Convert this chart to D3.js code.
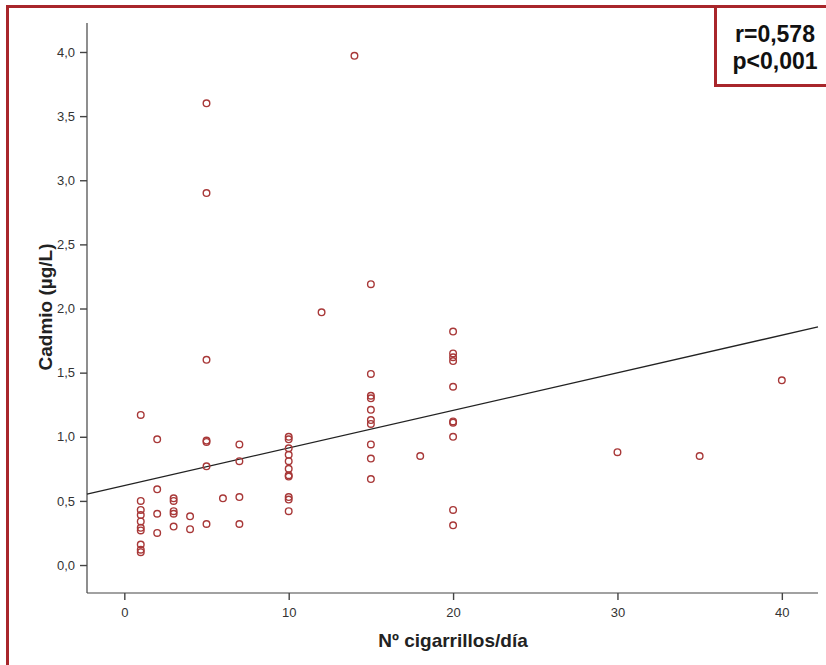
<!DOCTYPE html>
<html>
<head>
<meta charset="utf-8">
<script src="https://cdn.jsdelivr.net/npm/d3@7"></script>
<style>
  body { margin: 0; background: #fff; }
  svg { display: block; font-family: "Liberation Sans", Arial, sans-serif; }
</style>
</head>
<body>
<div id="chart"></div>
<script>
// Cigarettes per day (x) and cadmium level (y).
const cigarettes = [
  1, 1, 1, 1, 1, 1, 1, 1, 1, 1,
  2, 2, 2, 2,
  3, 3, 3, 3, 3,
  4, 4,
  5, 5, 5, 5, 5, 5, 5,
  6,
  7, 7, 7, 7,
  10, 10, 10, 10, 10, 10, 10, 10, 10, 10, 10,
  12, 14,
  15, 15, 15, 15, 15, 15, 15, 15, 15, 15,
  18,
  20, 20, 20, 20, 20, 20, 20, 20, 20, 20,
  30, 35, 40
];
const cadmium = [
  1.17, 0.50, 0.43, 0.39, 0.34, 0.29, 0.27, 0.16, 0.12, 0.10,
  0.98, 0.59, 0.40, 0.25,
  0.52, 0.50, 0.42, 0.40, 0.30,
  0.38, 0.28,
  3.60, 2.90, 1.60, 0.97, 0.96, 0.77, 0.32,
  0.52,
  0.94, 0.81, 0.53, 0.32,
  1.00, 0.98, 0.91, 0.86, 0.81, 0.75, 0.70, 0.69, 0.53, 0.51, 0.42,
  1.97, 3.97,
  2.19, 1.49, 1.32, 1.30, 1.21, 1.13, 1.10, 0.94, 0.83, 0.67,
  0.85,
  1.82, 1.65, 1.62, 1.59, 1.39, 1.12, 1.11, 1.00, 0.43, 0.31,
  0.88, 0.85, 1.44
];
// Fitted line: cadmium = intercept + slope * cigarettes
const fitIntercept = 0.62;
const fitSlope = 0.0293;
const xTicks = [0, 10, 20, 30, 40];
const yTicks = [0, 0.5, 1, 1.5, 2, 2.5, 3, 3.5, 4];
const statLines = ["r=0,578", "p<0,001"];

const W = 826, H = 665;
const plot = { left: 87, right: 818, top: 23, bottom: 593 };

const svg = d3.select("#chart").append("svg")
  .attr("width", W).attr("height", H);

const x = d3.scaleLinear().domain([-2.27, 42.2]).range([plot.left, plot.right]);
const y = d3.scaleLinear().domain([-0.218, 4.226]).range([plot.bottom, plot.top]);

const comma = v => d3.format(".1f")(v).replace(".", ",");

// Axes
const yAxis = svg.append("g")
  .attr("transform", `translate(${plot.left},0)`)
  .call(d3.axisLeft(y).tickValues(yTicks).tickFormat(comma)
    .tickSize(7).tickPadding(5).tickSizeOuter(0));
const xAxis = svg.append("g")
  .attr("transform", `translate(0,${plot.bottom})`)
  .call(d3.axisBottom(x).tickValues(xTicks).tickFormat(d3.format("d"))
    .tickSize(7).tickPadding(8).tickSizeOuter(0));

[yAxis, xAxis].forEach(a => {
  a.select(".domain").attr("stroke", "#444").attr("stroke-width", 1.2);
  a.selectAll(".tick line").attr("stroke", "#444").attr("stroke-width", 1.4);
  a.selectAll(".tick text").attr("fill", "#333").style("font-size", "13px");
});
yAxis.select(".domain").attr("d", `M0,${plot.top}V${plot.bottom}`);
xAxis.select(".domain").attr("d", `M${plot.left},0H${plot.right}`);

// Regression line
const xd = x.domain();
svg.append("line")
  .attr("x1", x(xd[0])).attr("y1", y(fitIntercept + fitSlope * xd[0]))
  .attr("x2", x(xd[1])).attr("y2", y(fitIntercept + fitSlope * xd[1]))
  .attr("stroke", "#222").attr("stroke-width", 1.3);

// Points
svg.append("g").selectAll("circle")
  .data(cigarettes.map((c, i) => [c, cadmium[i]]))
  .join("circle")
  .attr("cx", d => x(d[0]))
  .attr("cy", d => y(d[1]))
  .attr("r", 3.3)
  .attr("fill", "none")
  .attr("stroke", "#a83838")
  .attr("stroke-width", 1.4);

// Axis titles
svg.append("text")
  .attr("x", 453).attr("y", 647)
  .attr("text-anchor", "middle")
  .style("font-size", "19px").style("font-weight", "bold").attr("fill", "#222")
  .text("Nº cigarrillos/día");
svg.append("text")
  .attr("transform", "translate(52,307) rotate(-90)")
  .attr("text-anchor", "middle")
  .style("font-size", "19px").style("font-weight", "bold").attr("fill", "#222")
  .text("Cadmio (µg/L)");

// Outer frame and stat box
svg.append("rect")
  .attr("x", 7.5).attr("y", 6.5).attr("width", 840).attr("height", 700)
  .attr("fill", "none").attr("stroke", "#a8262b").attr("stroke-width", 3);
svg.append("rect")
  .attr("x", 715.5).attr("y", 6.5).attr("width", 130).attr("height", 79)
  .attr("fill", "#fff").attr("stroke", "#a8262b").attr("stroke-width", 3);
svg.append("g").selectAll("text")
  .data(statLines)
  .join("text")
  .attr("x", 775).attr("y", (d, i) => 42 + i * 27)
  .attr("text-anchor", "middle")
  .style("font-size", "23px").style("font-weight", "bold").attr("fill", "#111")
  .text(d => d);
</script>
</body>
</html>
